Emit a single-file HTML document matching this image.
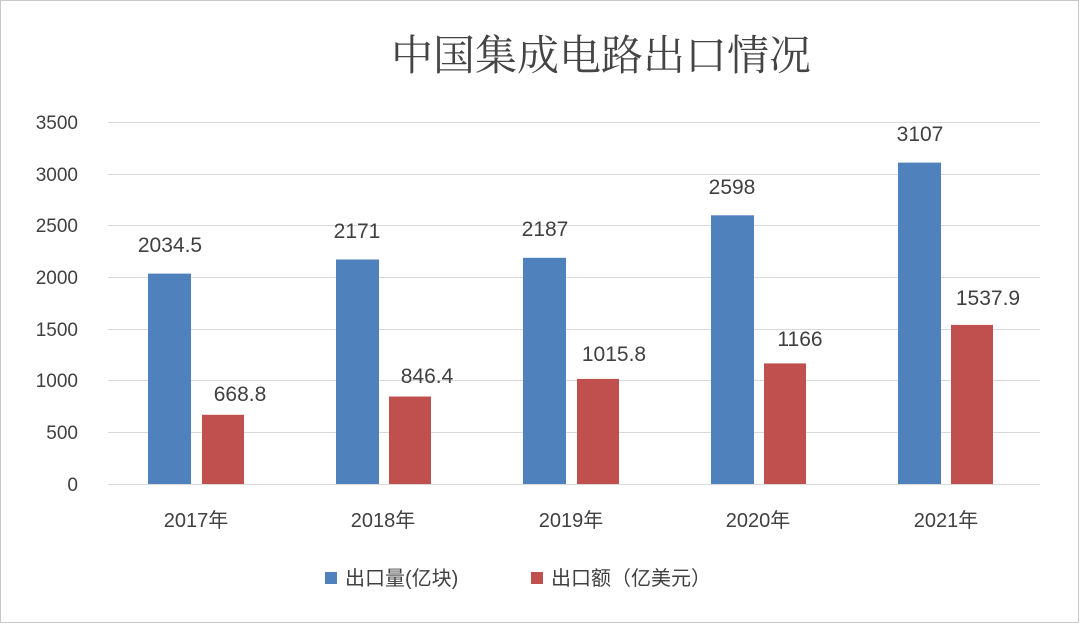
<!DOCTYPE html>
<html><head><meta charset="utf-8"><style>
body{margin:0;background:#fff;}
svg{display:block;}
text{font-family:"Liberation Sans","Noto Sans CJK SC",sans-serif;fill:#404040;}
</style></head><body>
<svg width="1080" height="625" viewBox="0 0 1080 625" xmlns="http://www.w3.org/2000/svg">
<rect x="0.5" y="0.5" width="1078" height="622" fill="#fff" stroke="#c8c8c8"/>
<text x="601" y="70" font-size="42" text-anchor="middle" style="font-family:'Noto Serif CJK SC','Liberation Serif',serif;fill:#444">中国集成电路出口情况</text>
<g stroke="#d9d9d9" stroke-width="1">
<line x1="108" x2="1040" y1="122.5" y2="122.5"/>
<line x1="108" x2="1040" y1="174.5" y2="174.5"/>
<line x1="108" x2="1040" y1="225.5" y2="225.5"/>
<line x1="108" x2="1040" y1="277.5" y2="277.5"/>
<line x1="108" x2="1040" y1="329.5" y2="329.5"/>
<line x1="108" x2="1040" y1="380.5" y2="380.5"/>
<line x1="108" x2="1040" y1="432.5" y2="432.5"/>
<line x1="108" x2="1040" y1="484.5" y2="484.5"/>
</g>
<g font-size="19" text-anchor="end">
<text x="78" y="129">3500</text><text x="78" y="181">3000</text><text x="78" y="232">2500</text>
<text x="78" y="284">2000</text><text x="78" y="336">1500</text><text x="78" y="387">1000</text>
<text x="78" y="439">500</text><text x="78" y="491">0</text>
</g>
<g fill="#4f81bd">
<rect x="148" y="273.6" width="43" height="210.4"/>
<rect x="336" y="259.5" width="43" height="224.5"/>
<rect x="523" y="257.8" width="43" height="226.2"/>
<rect x="711" y="215.3" width="43" height="268.7"/>
<rect x="898" y="162.6" width="43" height="321.4"/>
</g>
<g fill="#c0504d">
<rect x="202" y="414.8" width="42" height="69.2"/>
<rect x="389" y="396.5" width="42" height="87.5"/>
<rect x="577" y="378.9" width="42" height="105.1"/>
<rect x="764" y="363.4" width="42" height="120.6"/>
<rect x="951" y="324.9" width="42" height="159.1"/>
</g>
<g font-size="21" text-anchor="middle">
<text x="170" y="252">2034.5</text><text x="357" y="238">2171</text><text x="545" y="236">2187</text>
<text x="732" y="194">2598</text><text x="920" y="141">3107</text>
<text x="240" y="401">668.8</text><text x="427" y="383">846.4</text><text x="614" y="361">1015.8</text>
<text x="800" y="346">1166</text><text x="988" y="305">1537.9</text>
</g>
<g font-size="20" text-anchor="middle">
<text x="196" y="527">2017年</text><text x="383" y="527">2018年</text><text x="571" y="527">2019年</text>
<text x="758" y="527">2020年</text><text x="946" y="527">2021年</text>
</g>
<rect x="325" y="572" width="12" height="12" fill="#4f81bd"/>
<text x="345" y="585" font-size="20">出口量(亿块)</text>
<rect x="531" y="572" width="12" height="12" fill="#c0504d"/>
<text x="551" y="585" font-size="20">出口额（亿美元）</text>
</svg>
</body></html>
